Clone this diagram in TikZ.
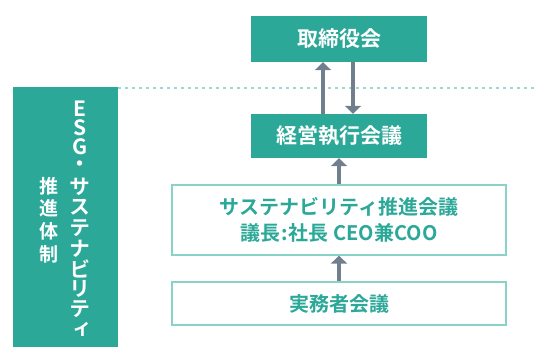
\documentclass[tikz,border=0pt]{standalone}
\usepackage{fontspec}
\setmainfont{Noto Sans CJK JP}[BoldFont={* Bold}]
\newfontfamily\vfont{Noto Sans CJK JP}[RawFeature=+vert, BoldFont={* Bold}]
\usetikzlibrary{arrows.meta}
\definecolor{tealfill}{HTML}{2BA898}
\definecolor{tealline}{HTML}{88D2C8}
\definecolor{dotc}{HTML}{9ED9D1}
\definecolor{arrowc}{HTML}{6F7F8E}
\newcommand\vg[2]{\hbox to 24pt{\hss\vbox to #1{\vss\hbox{#2}\vss}\hss}}
\tikzset{
  fillbox/.style={fill=tealfill, draw=none, text=white, inner sep=0pt, minimum width=176pt, font=\bfseries\fontsize{21}{24}\selectfont},
  linebox/.style={draw=tealline, line width=1.3pt, fill=white, text=tealfill, inner sep=0pt, align=center, minimum width=334pt, font=\bfseries\fontsize{20}{26}\selectfont},
  arr/.style={draw=arrowc, line width=4pt, -{Triangle[width=16pt,length=8pt]}},
  dotline/.style={draw=dotc, line width=2.5pt, dash pattern=on 2.5pt off 4.5pt},
  coltext/.style={text=white, inner sep=0pt}
}
\begin{document}
\begin{tikzpicture}[x=1pt,y=-1pt]
\useasboundingbox (0,0) rectangle (534,347);
% left bar
\node[fill=tealfill, minimum width=105pt, minimum height=260pt, inner sep=0pt] (bar) at (65.5,217) {};
\coordinate (dotend) at (534,88);
\draw[dotline] (bar.north east |- dotend) -- (dotend);
\node[coltext, font=\vfont\bfseries\fontsize{21}{21}\selectfont] (col1) at (80,219.5) {\vbox{\offinterlineskip
  \vg{19pt}{E}\vg{19pt}{S}\vg{19pt}{G}\vg{21pt}{・}%
  \vg{20.4pt}{サ}\vg{20.4pt}{ス}\vg{20.4pt}{テ}\vg{20.4pt}{ナ}%
  \vg{20.4pt}{ビ}\vg{20.4pt}{リ}\vg{20.4pt}{テ}\vg{20.4pt}{ィ}}};
\node[coltext, font=\vfont\bfseries\fontsize{19}{19}\selectfont] (col2) at (49,220) {\vbox{\offinterlineskip
  \vg{22.7pt}{推}\vg{22.7pt}{進}\vg{22.7pt}{体}\vg{22.7pt}{制}}};
% boxes
\node[fillbox, minimum height=46pt] (board) at (339,39) {取締役会};
\node[fillbox, minimum height=44pt] (exec) at (339,136) {経営執行会議};
\node[linebox, minimum height=70pt] (sus) at (339,220) {サステナビリティ推進会議\\議長\hspace{1pt}:\hspace{1pt}社長 CEO兼COO};
\node[linebox, minimum height=43pt] (work) at (339,303.5) {実務者会議};
% arrows
\draw[arr] ([xshift=-16pt]exec.north) -- ([xshift=-16pt]board.south);
\draw[arr] ([xshift=14pt]board.south) -- ([xshift=14pt]exec.north);
\draw[arr] (sus.north) -- (exec.south);
\draw[arr] (work.north) -- (sus.south);
\end{tikzpicture}
\end{document}
